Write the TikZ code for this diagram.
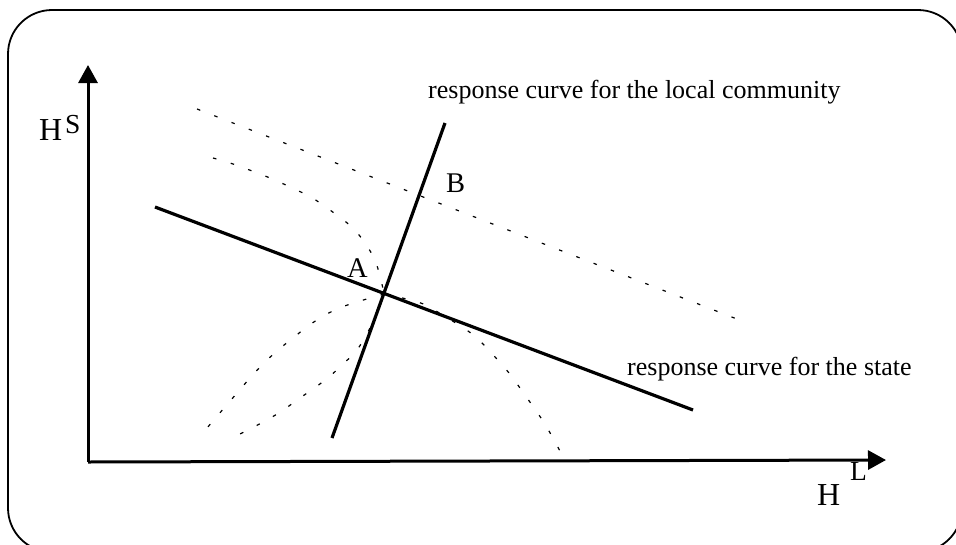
\documentclass[tikz,border=0pt]{standalone}
\usepackage{fontspec}
\setmainfont{Liberation Serif}
\usetikzlibrary{arrows.meta}
\begin{document}
\begin{tikzpicture}[x=1pt,y=-1pt,
  frame/.style={line width=1.8pt,rounded corners=44pt},
  axis/.style={line width=3pt,-{Triangle[width=19pt,length=18pt]}},
  resp/.style={line width=3.2pt},
  iso/.style={line width=1.2pt,dash pattern=on 3.5pt off 15pt},
  lbl/.style={inner sep=0pt,anchor=base west,font=\fontsize{26}{30}\selectfont},
  pt/.style={inner sep=0pt,anchor=base west,font=\fontsize{28.5}{32}\selectfont},
  axl/.style={inner sep=0pt,anchor=base west,font=\fontsize{32}{36}\selectfont},
  axs/.style={inner sep=0pt,anchor=base west,font=\fontsize{27.5}{30}\selectfont}]
\useasboundingbox (0,0) rectangle (956,544);
\begin{scope}
\clip (0,0) rectangle (956,544);
\draw[frame] (8,10) rectangle (962,552);
\end{scope}
% coordinates
\coordinate (O) at (88,462);
\coordinate (ytip) at (88,65);
\coordinate (xtip) at (886,460);
\coordinate (s1) at (155,207);
\coordinate (s2) at (693,410);
\coordinate (c1) at (332,438);
\coordinate (c2) at (445,123);
\coordinate (A) at (384,294);
\coordinate (t1) at (197,109);
\coordinate (t2) at (742,321);
% axes
\draw[axis] (O) -- (ytip);
\draw[axis] (O) -- (xtip);
% dotted iso curves
\draw[iso] (t1) -- (t2);
\draw[iso] plot[smooth] coordinates {(213,158) (233,164) (270,178) (307,195) (323,205) (338,216) (353,228) (365,243) (375,260) (381,280) (384,294)};
\draw[iso] plot[smooth] coordinates {(384,294) (360,301) (342,307) (325,315) (308,326) (293,338) (278,350) (263,364) (250,378) (237,393) (225,407) (212,422) (199,438)};
\draw[iso] plot[smooth] coordinates {(384,294) (371,326) (357,350) (343,364) (329,377) (313,389) (297,400) (282,411) (265,421) (248,430) (230,439)};
\draw[iso] plot[smooth] coordinates {(384,294) (418,302) (436,311) (468,331) (483,344) (496,358) (509,373) (520,388) (532,405) (543,421) (553,438) (561,453)};
% response curves
\draw[resp] (s1) -- (s2);
\draw[resp] (c1) -- (c2);
% labels
\node[lbl] (lc) at (428,98) {response curve for the local community};
\node[lbl] (ls) at (627,375) {response curve for the state};
\node[pt] (la) at (347,277) {A};
\node[pt] (lb) at (446,192) {B};
\node[axl] (hs) at (39,140) {H};
\node[axs] (hss) at (65,133) {S};
\node[axl] (hl) at (817,505) {H};
\node[axs] (hll) at (850,480) {L};
\end{tikzpicture}
\end{document}
